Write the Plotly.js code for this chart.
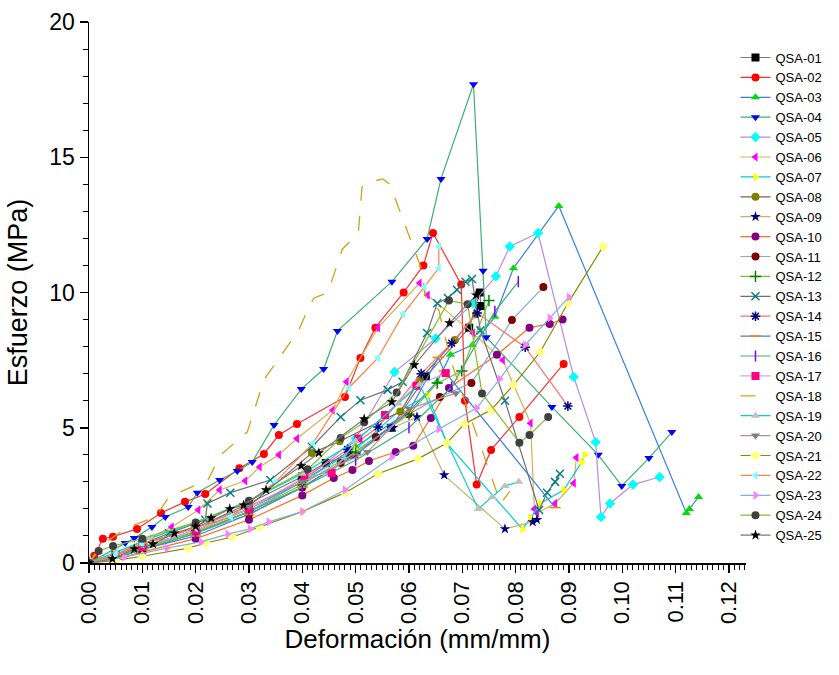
<!DOCTYPE html>
<html>
<head>
<meta charset="utf-8">
<script src="https://cdn.plot.ly/plotly-3.0.1.min.js"></script>
<style>html,body{margin:0;padding:0;background:#fff;}#chart{width:839px;height:675px;}</style>
</head>
<body>
<div id="chart"></div>
<script>
// Series names
const names = ["QSA-01","QSA-02","QSA-03","QSA-04","QSA-05","QSA-06","QSA-07","QSA-08","QSA-09","QSA-10","QSA-11","QSA-12","QSA-13","QSA-14","QSA-15","QSA-16","QSA-17","QSA-18","QSA-19","QSA-20","QSA-21","QSA-22","QSA-23","QSA-24","QSA-25"];

// Strain (mm/mm) and stress (MPa) per specimen
const x01 = [0,0.005,0.01,0.02,0.03,0.04,0.0444,0.049,0.0566,0.0632,0.0713,0.0733,0.0735];
const y01 = [0,0.3,0.7,1.3,2.2,3.2,3.7,4.0,5.0,6.9,8.7,10.0,9.5];
const x02 = [0,0.001,0.0026,0.0045,0.009,0.0135,0.018,0.0218,0.0282,0.0328,0.0356,0.039,0.048,0.0509,0.0537,0.059,0.0627,0.0645,0.0698,0.0705,0.0727,0.0754,0.0807,0.089];
const y02 = [0,0.27,0.9,0.97,1.26,1.85,2.26,2.55,3.5,4.03,4.73,5.14,6.14,7.58,8.7,10.0,11.0,12.2,10.3,6.0,2.9,4.18,5.4,7.36];
const x03 = [0,0.005,0.01,0.02,0.03,0.04,0.05,0.06,0.0653,0.0678,0.0719,0.0761,0.0796,0.0881,0.112,0.1126,0.1143];
const y03 = [0,0.25,0.6,1.2,2.0,3.0,4.3,5.6,6.7,7.7,8.06,9.1,10.9,13.2,1.85,2.0,2.44];
const x04 = [0,0.0068,0.0085,0.0118,0.0143,0.0186,0.0203,0.0245,0.0278,0.0306,0.0347,0.0398,0.044,0.0466,0.0568,0.0634,0.066,0.0721,0.0739,0.0745,0.0868,0.0955,0.0999,0.105,0.1093];
const y04 = [0,0.74,0.92,1.33,1.7,2.07,2.6,3.07,3.4,3.73,5.1,6.43,7.17,8.58,10.4,11.98,14.2,17.7,10.8,8.35,5.77,4.0,2.85,3.88,4.84];
const x05 = [0,0.005,0.01,0.02,0.03,0.04,0.05,0.0573,0.065,0.072,0.0763,0.0789,0.0842,0.0909,0.095,0.096,0.0977,0.102,0.107];
const y05 = [0,0.2,0.5,1.1,1.9,3.0,4.6,7.06,8.3,9.6,10.6,11.7,12.2,6.88,4.47,1.7,2.2,2.9,3.18];
const x06 = [0,0.005,0.01,0.0155,0.0205,0.0245,0.0293,0.032,0.0356,0.039,0.0457,0.0483,0.0542,0.062,0.0635,0.072,0.0776,0.0828,0.0835,0.084,0.0874,0.0909,0.0914];
const y06 = [0,0.3,0.8,1.33,1.96,2.7,3.04,3.55,4.0,4.6,5.65,6.7,8.7,10.35,9.9,8.5,7.5,5.17,2.0,1.85,2.2,2.95,3.9];
const x07 = [0,0.005,0.01,0.02,0.03,0.04,0.05,0.058,0.0635,0.0672,0.0813,0.0828,0.0846,0.089,0.0924,0.093];
const y07 = [0,0.25,0.6,1.2,2.0,3.0,4.2,5.6,6.2,4.4,1.25,1.66,2.2,2.7,3.73,4.0];
const x08 = [0,0.005,0.01,0.02,0.03,0.0418,0.047,0.0584,0.062,0.0686,0.0726];
const y08 = [0,0.3,0.7,1.3,2.1,4.07,4.5,5.6,6.77,8.24,9.2];
const x09 = [0,0.005,0.01,0.02,0.03,0.04,0.05,0.057,0.0615,0.0666,0.078,0.0832,0.084];
const y09 = [0,0.2,0.5,1.1,1.9,2.8,4.0,5.0,5.4,3.25,1.26,1.52,1.6];
const x10 = [0,0.005,0.01,0.02,0.03,0.04,0.0459,0.0494,0.0525,0.0575,0.0608,0.0641,0.0675,0.0765,0.0826,0.0864,0.0888];
const y10 = [0,0.15,0.4,0.9,1.6,2.5,3.14,3.44,3.77,4.1,4.33,5.36,6.47,7.7,8.7,8.84,9.0];
const x11 = [0,0.005,0.01,0.02,0.03,0.04,0.0472,0.0538,0.0599,0.0658,0.0717,0.0793,0.0852];
const y11 = [0,0.2,0.5,1.1,1.8,2.8,3.7,4.66,5.5,6.14,6.65,8.98,10.2];
const x12 = [0,0.005,0.01,0.02,0.03,0.04,0.05,0.06,0.0653,0.0699,0.075];
const y12 = [0,0.25,0.55,1.15,1.9,2.9,4.1,5.5,6.65,7.1,9.7];
const x13 = [0,0.005,0.01,0.015,0.0218,0.0222,0.0265,0.034,0.0418,0.0472,0.0509,0.056,0.0588,0.0634,0.0653,0.0673,0.069,0.0706,0.0718,0.0734,0.078,0.0844,0.0859,0.0874,0.0883];
const y13 = [0,0.3,0.7,1.1,1.6,2.2,2.6,3.07,4.3,5.4,6.02,6.4,6.7,8.5,9.6,9.8,10.1,10.4,10.5,8.6,6.0,1.96,2.6,3.0,3.3];
const x14 = [0,0.005,0.01,0.02,0.03,0.04,0.0485,0.0542,0.0623,0.068,0.0728,0.0818,0.0898];
const y14 = [0,0.25,0.6,1.2,2.0,3.1,4.2,5.03,7.0,8.13,9.24,7.98,5.8];
const x15 = [0,0.005,0.01,0.02,0.03,0.04,0.05,0.06,0.0655,0.0666,0.0874];
const y15 = [0,0.2,0.5,1.0,1.8,2.8,4.0,5.6,7.6,7.1,2.05];
const x16 = [0,0.005,0.01,0.02,0.03,0.04,0.05,0.06,0.068,0.0761,0.0805];
const y16 = [0,0.2,0.5,1.1,1.9,2.8,3.8,5.0,6.5,9.3,10.4];
const x17 = [0,0.005,0.01,0.02,0.03,0.0404,0.0455,0.0505,0.0555,0.0614,0.0669];
const y17 = [0,0.25,0.6,1.2,2.0,3.18,3.33,4.6,5.47,6.55,7.02];
const x18 = [0,0.002,0.007,0.0125,0.015,0.0223,0.0247,0.0297,0.0328,0.0393,0.0413,0.0422,0.0448,0.0475,0.0505,0.0512,0.052,0.0551,0.0564,0.0623,0.063,0.0656,0.0678,0.0772,0.0789];
const y18 = [0,0.6,1.3,1.7,2.45,3.07,4.0,4.85,6.77,8.6,9.5,9.8,10.0,11.6,12.2,13.9,14.05,14.2,14.0,10.9,9.9,9.35,7.5,2.2,2.65];
const x19 = [0,0.005,0.0116,0.02,0.03,0.04,0.05,0.058,0.062,0.073,0.0756,0.078,0.0806];
const y19 = [0,0.4,0.92,1.5,2.3,3.3,4.5,5.9,6.6,2.0,2.44,2.85,3.0];
const x20 = [0,0.005,0.01,0.02,0.03,0.04,0.0522,0.06,0.0688];
const y20 = [0,0.3,0.7,1.3,2.1,3.0,4.1,5.7,6.28];
const x21 = [0,0.005,0.01,0.0186,0.0219,0.0269,0.032,0.04,0.048,0.0542,0.0617,0.0671,0.0704,0.0754,0.0796,0.0846,0.0898,0.0964];
const y21 = [0,0.1,0.25,0.55,0.74,0.96,1.33,1.9,2.6,3.3,3.85,4.44,5.14,5.66,6.58,7.8,9.6,11.7];
const x22 = [0,0.005,0.01,0.02,0.0266,0.035,0.042,0.0487,0.0542,0.0589,0.0629,0.0656,0.0656];
const y22 = [0,0.3,0.7,1.3,1.7,3.0,4.43,6.47,7.58,9.2,10.2,10.9,11.7];
const x23 = [0,0.0066,0.0146,0.021,0.026,0.0302,0.0337,0.04,0.048,0.0568,0.0656,0.0727,0.077,0.0818,0.0864,0.09];
const y23 = [0,0.22,0.55,0.78,1.07,1.26,1.52,1.9,2.7,3.92,4.95,5.73,6.8,8.06,9.06,9.83];
const x24 = [0,0.0018,0.0045,0.01,0.02,0.03,0.041,0.0472,0.0516,0.0577,0.0675,0.071,0.0737,0.0807,0.0826,0.0861];
const y24 = [0,0.44,0.63,0.9,1.5,2.3,3.47,4.62,5.2,6.3,9.7,9.57,6.27,4.45,4.73,5.4];
const x25 = [0,0.0044,0.0085,0.012,0.016,0.02,0.0229,0.0264,0.029,0.0332,0.0398,0.0431,0.0516,0.0568,0.061,0.0676,0.0726];
const y25 = [0,0.15,0.52,0.7,1.1,1.35,1.66,2.0,2.14,2.7,3.59,4.07,5.32,5.95,7.32,8.87,9.9];

const xs = [x01,x02,x03,x04,x05,x06,x07,x08,x09,x10,x11,x12,x13,x14,x15,x16,x17,x18,x19,x20,x21,x22,x23,x24,x25];
const ys = [y01,y02,y03,y04,y05,y06,y07,y08,y09,y10,y11,y12,y13,y14,y15,y16,y17,y18,y19,y20,y21,y22,y23,y24,y25];

// styles: [line colour, marker colour, marker symbol]
const styles = [
  ["#7a7a7a","#000000","square"],
  ["#ff3030","#ff0000","circle"],
  ["#3a80e0","#00e000","triangle-up"],
  ["#3cb070","#0000ff","triangle-down"],
  ["#b88ae0","#00ffff","diamond"],
  ["#d8b050","#ff00ff","triangle-left"],
  ["#00d0d0","#ffff00","triangle-right"],
  ["#8a5a50","#808000","circle"],
  ["#bdb76b","#000080","star"],
  ["#ff7020","#800080","circle"],
  ["#80a8d8","#800000","circle"],
  ["#80c030","#008000","cross-thin"],
  ["#707070","#008080","x-thin"],
  ["#ff7070","#000080","asterisk"],
  ["#3a80e0","#ff8000","line-ew"],
  ["#3cb070","#8000ff","line-ns"],
  ["#c8a8e8","#ff0080","square"],
  ["#d4a017","#d4a017",null],
  ["#00d0d0","#c0c0c0","triangle-up"],
  ["#b89090","#808080","triangle-down"],
  ["#8a8a00","#ffff80","diamond"],
  ["#ff8040","#80ffff","triangle-left"],
  ["#80b0e0","#ff80ff","triangle-right"],
  ["#80c030","#404040","circle"],
  ["#7a7a7a","#000000","star"]
];

const lineSyms = ["cross-thin","x-thin","asterisk","line-ew","line-ns"];
const traces = names.map((n,i)=>{
  const st = styles[i];
  const t = {x: xs[i], y: ys[i], name: n, type: "scatter", line: {color: st[0], width: 1.2}};
  if (st[2] === null) {
    t.mode = "lines";
    t.line.dash = "longdash";
    t.line.width = 1.3;
  } else {
    t.mode = "lines+markers";
    const isLine = lineSyms.includes(st[2]);
    t.marker = {symbol: st[2], color: st[1], size: 8,
      line: {color: st[1], width: isLine ? 1.5 : 0}};
  }
  return t;
});

const layout = {
  width: 839, height: 675,
  margin: {l: 89, r: 83, t: 22, b: 112},
  paper_bgcolor: "#fff", plot_bgcolor: "#fff",
  font: {family: "Liberation Sans, Arial, sans-serif", color: "#000"},
  showlegend: true,
  legend: {x: 0.984, xanchor: "left", y: 0.962, yanchor: "top", font: {size: 13}, bgcolor: "rgba(0,0,0,0)", tracegroupgap: 0, itemwidth: 30},
  xaxis: {
    range: [0, 0.1232], showgrid: false, zeroline: false,
    showline: true, linecolor: "#000", linewidth: 1.5,
    ticks: "outside", ticklen: 8, tickwidth: 1.5, tickcolor: "#000",
    dtick: 0.01, tick0: 0, tickformat: ".2f", tickangle: -90,
    tickfont: {size: 22},
    minor: {dtick: 0.001, ticks: "outside", ticklen: 5, tickwidth: 1, tickcolor: "#000"},
    title: {text: "Deformación (mm/mm)", font: {size: 26}, standoff: 0}
  },
  yaxis: {
    range: [0, 20], showgrid: false, zeroline: false,
    showline: true, linecolor: "#000", linewidth: 1.5,
    ticks: "outside", ticklen: 8, tickwidth: 1.5, tickcolor: "#000",
    dtick: 5, tick0: 0, tickfont: {size: 23},
    minor: {dtick: 1, ticks: "outside", ticklen: 5, tickwidth: 1, tickcolor: "#000"},
    title: {text: "Esfuerzo (MPa)", font: {size: 27}, standoff: 14}
  }
};

Plotly.newPlot("chart", traces, layout, {displayModeBar: false, staticPlot: true});
</script>
</body>
</html>
